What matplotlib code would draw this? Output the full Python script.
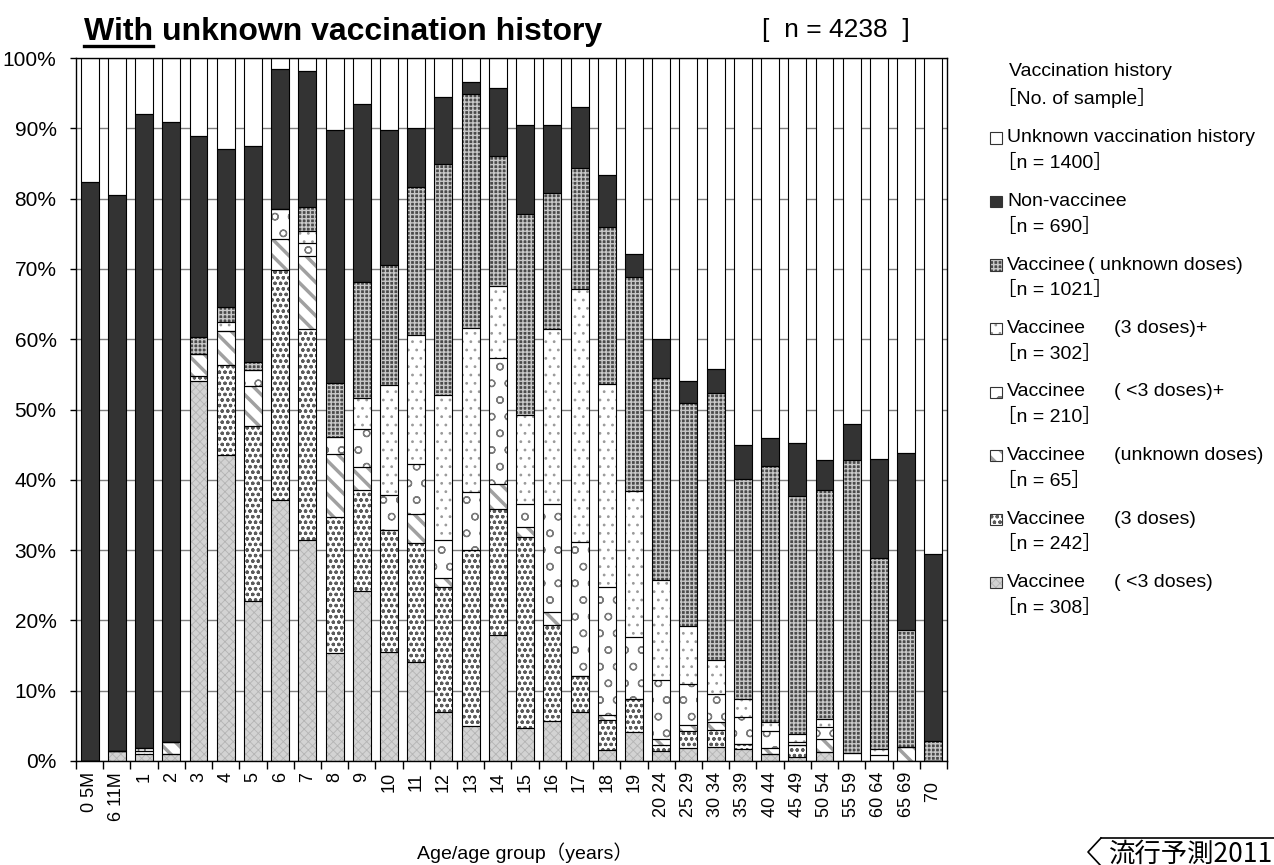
import matplotlib
matplotlib.use("Agg")
import matplotlib.pyplot as plt
import numpy as np
from matplotlib.lines import Line2D
from matplotlib.patches import Rectangle

W, H = 1274, 865

# Age groups (x axis)
age_labels = ["0 5M", "6 11M", "1", "2", "3", "4", "5", "6", "7", "8", "9",
              "10", "11", "12", "13", "14", "15", "16", "17", "18", "19",
              "20 24", "25 29", "30 34", "35 39", "40 44", "45 49", "50 54",
              "55 59", "60 64", "65 69", "70  "]

# Share of each vaccination-history group per age group (%), bottom to top
lt3_doses = [0, 1.4, 1.0, 0.95, 54.0, 43.5, 22.8, 37.1, 31.5, 15.3, 24.2,
             15.5, 14.1, 6.9, 5.0, 17.9, 4.7, 5.7, 6.9, 1.6, 4.1,
             1.4, 1.8, 2.0, 1.7, 1.0, 0.6, 1.3, 0, 0, 0, 0]
three_doses = [0, 0, 0.4, 0, 0.8, 12.9, 24.9, 32.8, 29.9, 19.4, 14.3,
               17.3, 16.9, 17.8, 25.0, 17.9, 27.1, 13.6, 5.2, 4.2, 4.7,
               0.9, 2.5, 2.4, 0.7, 0, 1.7, 0, 0, 0, 0, 0]
unk_doses_b = [0, 0, 0, 1.8, 3.1, 4.8, 5.7, 4.4, 10.5, 8.9, 3.3,
               0, 4.2, 1.4, 0, 3.6, 1.5, 1.9, 0, 0.8, 0,
               0.8, 0.8, 1.2, 0, 0.8, 0, 1.8, 0, 0, 2.0, 0]
lt3_doses_plus = [0, 0, 0.4, 0, 0, 0, 2.2, 4.2, 1.8, 2.5, 5.4,
                  5.1, 7.0, 5.3, 8.3, 17.9, 3.2, 15.3, 19.0, 18.1, 8.9,
                  8.4, 5.8, 4.0, 3.8, 2.5, 0.4, 1.8, 1.2, 0.85, 0, 0]
three_doses_plus = [0, 0, 0, 0, 0, 1.3, 0, 0, 1.7, 0, 4.4,
                    15.6, 18.4, 20.7, 23.3, 10.2, 12.7, 25.0, 36.1, 28.9, 20.7,
                    14.2, 8.3, 4.8, 2.6, 1.3, 1.2, 1.1, 0, 0.85, 0, 0]
unk_doses_a = [0, 0, 0, 0, 2.4, 2.1, 1.2, 0, 3.4, 7.7, 16.5,
               17.1, 21.0, 32.8, 33.3, 18.6, 28.6, 19.3, 17.2, 22.4, 30.4,
               28.8, 31.7, 38.0, 31.3, 36.4, 33.8, 32.5, 41.6, 27.2, 16.7, 2.9]
non_vaccinee = [82.3, 79.1, 90.2, 88.15, 28.6, 22.5, 30.7, 20.0, 19.4, 36.0, 25.3,
                19.1, 8.5, 9.6, 1.7, 9.7, 12.7, 9.6, 8.7, 7.3, 3.3,
                5.5, 3.2, 3.3, 4.9, 3.9, 7.5, 4.3, 5.1, 14.1, 25.1, 26.5]
unknown_hist = [17.7, 19.5, 8.0, 9.1, 11.1, 12.9, 12.5, 1.5, 1.8, 10.2, 6.6,
                10.3, 9.9, 5.5, 3.4, 4.2, 9.5, 9.6, 6.9, 16.7, 27.9,
                40.0, 45.9, 44.3, 55.0, 54.1, 54.8, 57.2, 52.1, 57.0, 56.2, 70.6]

# Legend text, top to bottom: (name, dose note, sample size)
legend_names = ["Unknown vaccination history", "Non-vaccinee", "Vaccinee",
                "Vaccinee", "Vaccinee", "Vaccinee", "Vaccinee", "Vaccinee"]
legend_notes = ["", "", "( unknown doses)", "(3 doses)+", "( <3 doses)+",
                "(unknown doses)", "(3 doses)", "( <3 doses)"]
legend_counts = ["［n = 1400］", "［n = 690］", "［n = 1021］", "［n = 302］",
                 "［n = 210］", "［n = 65］", "［n = 242］", "［n = 308］"]

plt.rcParams["font.family"] = ["Liberation Sans", "Noto Sans CJK JP", "DejaVu Sans"]

# bottom-to-top series with their fill styles
series = [lt3_doses, three_doses, unk_doses_b, lt3_doses_plus,
          three_doses_plus, unk_doses_a, non_vaccinee, unknown_hist]
styles = [
    dict(face="#d3d3d3", hatch="xxxx", hcolor="#b4b4b4", hlw=0.6),
    dict(face="white", hatch="ooo", hcolor="#5c5c5c", hlw=0.9),
    dict(face="white", hatch="\\\\", hcolor="#a0a0a0", hlw=2.5),
    dict(face="white", hatch="o", hcolor="#7a7a7a", hlw=0.9),
    dict(face="white", hatch="..", hcolor="#9a9a9a", hlw=0.8),
    dict(face="#4a4a4a", hatch="++++", hcolor="#c8c8c8", hlw=1.0),
    dict(face="#333333", hatch=None, hcolor="#333333", hlw=1.0),
    dict(face="white", hatch=None, hcolor="white", hlw=1.0),
]


def fx(px):
    return px / W


def fy(py):
    return 1 - py / H


fig = plt.figure(figsize=(W / 100, H / 100), dpi=100)
ax = fig.add_axes([fx(76), fy(761), 871 / W, 703 / H])

x = np.arange(len(age_labels))
bottom = np.zeros(len(x))
bar_w = 0.66
for vals, st in zip(series, styles):
    vals = np.asarray(vals, dtype=float)
    with plt.rc_context({"hatch.linewidth": st["hlw"]}):
        bars = ax.bar(x, vals, bar_w, bottom=bottom, color=st["face"],
                      hatch=st["hatch"], edgecolor=st["hcolor"], linewidth=0,
                      zorder=2)
    for b in bars:
        if hasattr(b, "set_hatch_linewidth"):
            b.set_hatch_linewidth(st["hlw"])
    ax.bar(x, vals, bar_w, bottom=bottom, fill=False, edgecolor="black",
           linewidth=0.8, zorder=3)
    bottom += vals

ax.set_xlim(-0.5, len(x) - 0.5)
ax.set_ylim(0, 100)
ax.set_yticks(np.arange(0, 101, 10))
ax.set_yticklabels([f"{v}%" for v in range(0, 101, 10)], fontsize=15)
ax.tick_params(axis="y", length=4, width=1, pad=10)
ax.yaxis.grid(True, color="#7f7f7f", linewidth=1)
ax.set_axisbelow(True)

ax.set_xticks(x)
ax.set_xticklabels(age_labels, rotation=90, ha="center", va="top", fontsize=13)
ax.tick_params(axis="x", which="major", length=0, pad=8)
ax.set_xticks(np.arange(-0.5, len(x), 1), minor=True)
ax.tick_params(axis="x", which="minor", length=6, width=1, direction="out")
for sp in ax.spines.values():
    sp.set_linewidth(1)
    sp.set_color("black")

# Title with underlined "With"
title_x = 84
fig.text(fx(title_x), fy(40), "With unknown vaccination history", fontsize=23,
         fontweight="bold", va="baseline", ha="left")
tmp = fig.text(fx(title_x), fy(40), "With", fontsize=23, fontweight="bold",
               va="baseline", ha="left", alpha=0)
renderer = fig.canvas.get_renderer()
bb = tmp.get_window_extent(renderer)
fig.add_artist(Line2D([fx(title_x), fx(title_x) + bb.width / W], [fy(45.5), fy(45.5)],
                      transform=fig.transFigure, color="black", linewidth=2.4))

# total sample size
fig.text(fx(762), fy(30), "[  n = 4238  ]", fontsize=19, va="center", ha="left")

# Axis label
fig.text(fx(525), fy(853), "Age/age group（years）", fontsize=14,
         ha="center", va="center")

# Legend block
lg_fs = 14
fig.text(fx(1009), fy(72), "Vaccination history", fontsize=lg_fs, va="center")
fig.text(fx(997), fy(98), "［No. of sample］", fontsize=lg_fs, va="center")
for i, (name, note, cnt) in enumerate(zip(legend_names, legend_notes, legend_counts)):
    yc = 138 + 63.5 * i
    st = styles[len(styles) - 1 - i]
    with plt.rc_context({"hatch.linewidth": st["hlw"]}):
        sq = Rectangle((fx(990), fy(yc + 5.5)), 12 / W, 11 / H, transform=fig.transFigure,
                       facecolor=st["face"], hatch=st["hatch"], edgecolor=st["hcolor"],
                       linewidth=0)
    fig.add_artist(sq)
    fig.add_artist(Rectangle((fx(990), fy(yc + 5.5)), 12 / W, 11 / H,
                             transform=fig.transFigure, fill=False,
                             edgecolor="#333333", linewidth=0.8))
    fig.text(fx(1007), fy(yc), name, fontsize=lg_fs, va="center")
    if note:
        note_x = 1088 if i == 2 else 1114
        fig.text(fx(note_x), fy(yc), note, fontsize=lg_fs, va="center")
    fig.text(fx(997), fy(yc + 25), cnt, fontsize=lg_fs, va="center")

# Source mark in the lower right corner
fig.add_artist(Line2D([fx(1101), fx(1088), fx(1101)], [fy(838), fy(852), fy(866)],
                      transform=fig.transFigure, color="black", linewidth=1.2))
fig.add_artist(Line2D([fx(1101), fx(1274)], [fy(838), fy(838)],
                      transform=fig.transFigure, color="black", linewidth=1.2))
fig.text(fx(1109), fy(854), "流行予測2011", fontsize=19, style="italic",
         family=["Noto Sans CJK JP"], va="center", ha="left")

fig.savefig("out.png", dpi=100)
